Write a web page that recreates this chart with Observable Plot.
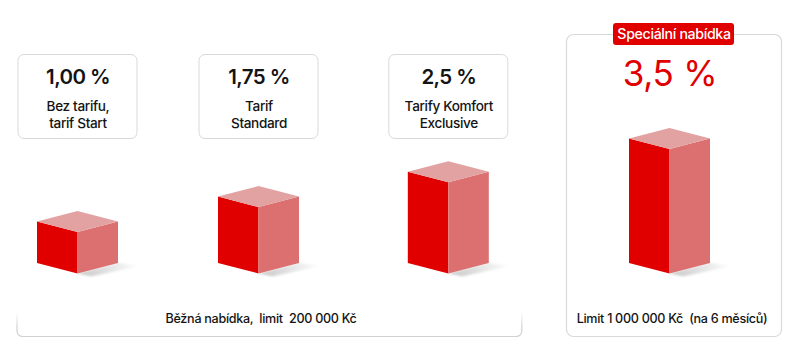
<!DOCTYPE html>
<html><head><meta charset="utf-8">
<script src="https://cdn.jsdelivr.net/npm/d3@7"></script>
<script src="https://cdn.jsdelivr.net/npm/@observablehq/plot@0.6"></script>
<style>
body{margin:0;background:#fff;}
svg text{white-space:pre;}
g[font-size="20.5"] text{letter-spacing:-0.6px;}
g[font-size="13.6"] text{letter-spacing:-0.35px;}
g[font-size="12.6"] text{letter-spacing:-0.3px;}
g[font-size="14.2"] text{letter-spacing:-0.35px;}
g[font-size="35"] text{letter-spacing:-0.3px;}
</style></head><body><div id="chart"></div>
<script>
// ---- data ----
const categories = ["Bez tarifu,\ntarif Start", "Tarif\nStandard", "Tarify Komfort\nExclusive", "Speciální nabídka"];
const rates = [1.00, 1.75, 2.5, 3.5];
const rateLabels = ["1,00 %", "1,75 %", "2,5 %", "3,5 %"];
const tiers = ["Běžná nabídka", "Běžná nabídka", "Běžná nabídka", "Speciální nabídka"];
const offerNames = ["Běžná nabídka", "Speciální nabídka"];
const offerNotes = ["Běžná nabídka,  limit  200 000 Kč", "Limit 1 000 000 Kč  (na 6 měsíců)"];

const FRONT = "#e00000", SIDE = "#dc6f6f", TOP = "#e3a2a2", INK = "#141414";
const FONT = "Inter, 'Noto Sans', sans-serif";
const BASE = -0.25;

const data = categories.map((c, i) => ({category: c, idx: i, rate: rates[i], label: rateLabels[i], tier: tiers[i]}));
const regular = data.filter(d => d.tier === offerNames[0]);
const special = data.filter(d => d.tier === offerNames[1]);
const notes = offerNames.map((n, j) => ({name: n, note: offerNotes[j], idx: d3.mean(data.filter(d => d.tier === n), d => d.idx)}));

const pts = a => a.map(p => p.join(",")).join(" ");

function cubes(index, scales, values) {
  const g = d3.create("svg:g");
  const defs = g.append("defs");
  const grad = defs.append("linearGradient").attr("id", "shadowGrad").attr("x1", 0).attr("x2", 1).attr("y1", 0).attr("y2", 0);
  grad.append("stop").attr("offset", 0).attr("stop-color", "#000").attr("stop-opacity", 0.22);
  grad.append("stop").attr("offset", 1).attr("stop-color", "#000").attr("stop-opacity", 0);
  const filt = defs.append("filter").attr("id", "shadowBlur").attr("x", "-20%").attr("y", "-100%").attr("width", "140%").attr("height", "300%");
  filt.append("feGaussianBlur").attr("stdDeviation", 1.2);
  const w = 40.5, s = 10.5;
  for (const i of index) {
    const xm = values.x[i], yb = values.y1[i], yt = values.y2[i];
    const xl = xm - w, xr = xm + w;
    g.append("polygon").attr("points", pts([[xm, yb + s], [xr, yb], [xr + 22, yb + 3], [xm + 14, yb + s + 3]]))
      .attr("fill", "url(#shadowGrad)").attr("filter", "url(#shadowBlur)");
    g.append("polygon").attr("points", pts([[xl, yt], [xm, yt + s], [xm, yb + s], [xl, yb]])).attr("fill", FRONT);
    g.append("polygon").attr("points", pts([[xm, yt + s], [xr, yt], [xr, yb], [xm, yb + s]])).attr("fill", SIDE);
    g.append("polygon").attr("points", pts([[xl, yt], [xm, yt - s], [xr, yt], [xm, yt + s]])).attr("fill", TOP);
  }
  return g.node();
}

function labelBoxes(index, scales, values) {
  const g = d3.create("svg:g");
  for (const i of index) {
    g.append("rect").attr("x", values.x[i] - 59.5).attr("y", 54.5).attr("width", 119).attr("height", 84)
      .attr("rx", 6).attr("fill", "#fff").attr("stroke", "#d9d9d9");
  }
  return g.node();
}

function frames(index, scales) {
  const g = d3.create("svg:g");
  const x = scales.x;
  const defs = g.append("defs");
  const sg = defs.append("linearGradient").attr("id", "bracketGrad").attr("gradientUnits", "userSpaceOnUse")
    .attr("x1", 0).attr("x2", 0).attr("y1", 312).attr("y2", 328);
  sg.append("stop").attr("offset", 0).attr("stop-color", "#d0d0d0").attr("stop-opacity", 0);
  sg.append("stop").attr("offset", 1).attr("stop-color", "#d0d0d0").attr("stop-opacity", 1);
  // regular offer bracket
  const xs = regular.map(d => x(d.idx));
  const L = d3.min(xs) - 60.5, R = d3.max(xs) + 73.5, B = 336.5;
  g.append("path").attr("d", `M${L},312 V${B - 6} Q${L},${B} ${L + 6},${B} H${R - 6} Q${R},${B} ${R},${B - 6} V312`)
    .attr("fill", "none").attr("stroke", "url(#bracketGrad)").attr("stroke-width", 1.2);
  // special offer box
  const c = x(special[0].idx) + 4.5;
  g.append("rect").attr("x", c - 107.5).attr("y", 34.5).attr("width", 215).attr("height", 302)
    .attr("rx", 7).attr("fill", "none").attr("stroke", "#d9d9d9").attr("stroke-width", 1.2);
  g.append("rect").attr("x", c - 61).attr("y", 23).attr("width", 121).attr("height", 22).attr("rx", 3).attr("fill", FRONT);
  return g.node();
}

const chart = Plot.plot({
  width: 800,
  height: 360,
  margin: 0,
  style: {background: "#fff", fontFamily: FONT, overflow: "visible"},
  x: {type: "linear", domain: [0, 1, 2, 3], range: [77.5, 258.5, 448.3, 669.5], axis: null},
  y: {domain: [BASE, 3.5], range: [263, 138.5], axis: null},
  marks: [
    Plot.ruleX([0], {x: d => d, render: frames}),
    Plot.ruleX(regular, {x: "idx", render: labelBoxes}),
    Plot.ruleX(data, {x: "idx", y1: BASE, y2: "rate", render: cubes}),
    Plot.text(regular, {x: "idx", text: "label", frameAnchor: "top", lineAnchor: "middle", dy: 77, fontSize: 20.5, fontWeight: 600, fill: INK}),
    Plot.text(regular, {x: "idx", text: "category", frameAnchor: "top", lineAnchor: "middle", dy: 113.5, fontSize: 13.6, fontWeight: 500, lineHeight: 1.22, fill: INK}),
    Plot.text(special, {x: "idx", text: "label", frameAnchor: "top", lineAnchor: "middle", dy: 74.5, fontSize: 35, fontWeight: 400, fill: FRONT}),
    Plot.text(special, {x: "idx", text: "tier", frameAnchor: "top", lineAnchor: "middle", dy: 34, dx: 4, fontSize: 14.2, fontWeight: 500, fill: "#fff"}),
    Plot.text(notes, {x: "idx", text: "note", frameAnchor: "top", lineAnchor: "middle", dy: 318, dx: 2, fontSize: 12.6, fontWeight: 500, fill: INK})
  ]
});
document.getElementById("chart").append(chart);
</script>
</body></html>
